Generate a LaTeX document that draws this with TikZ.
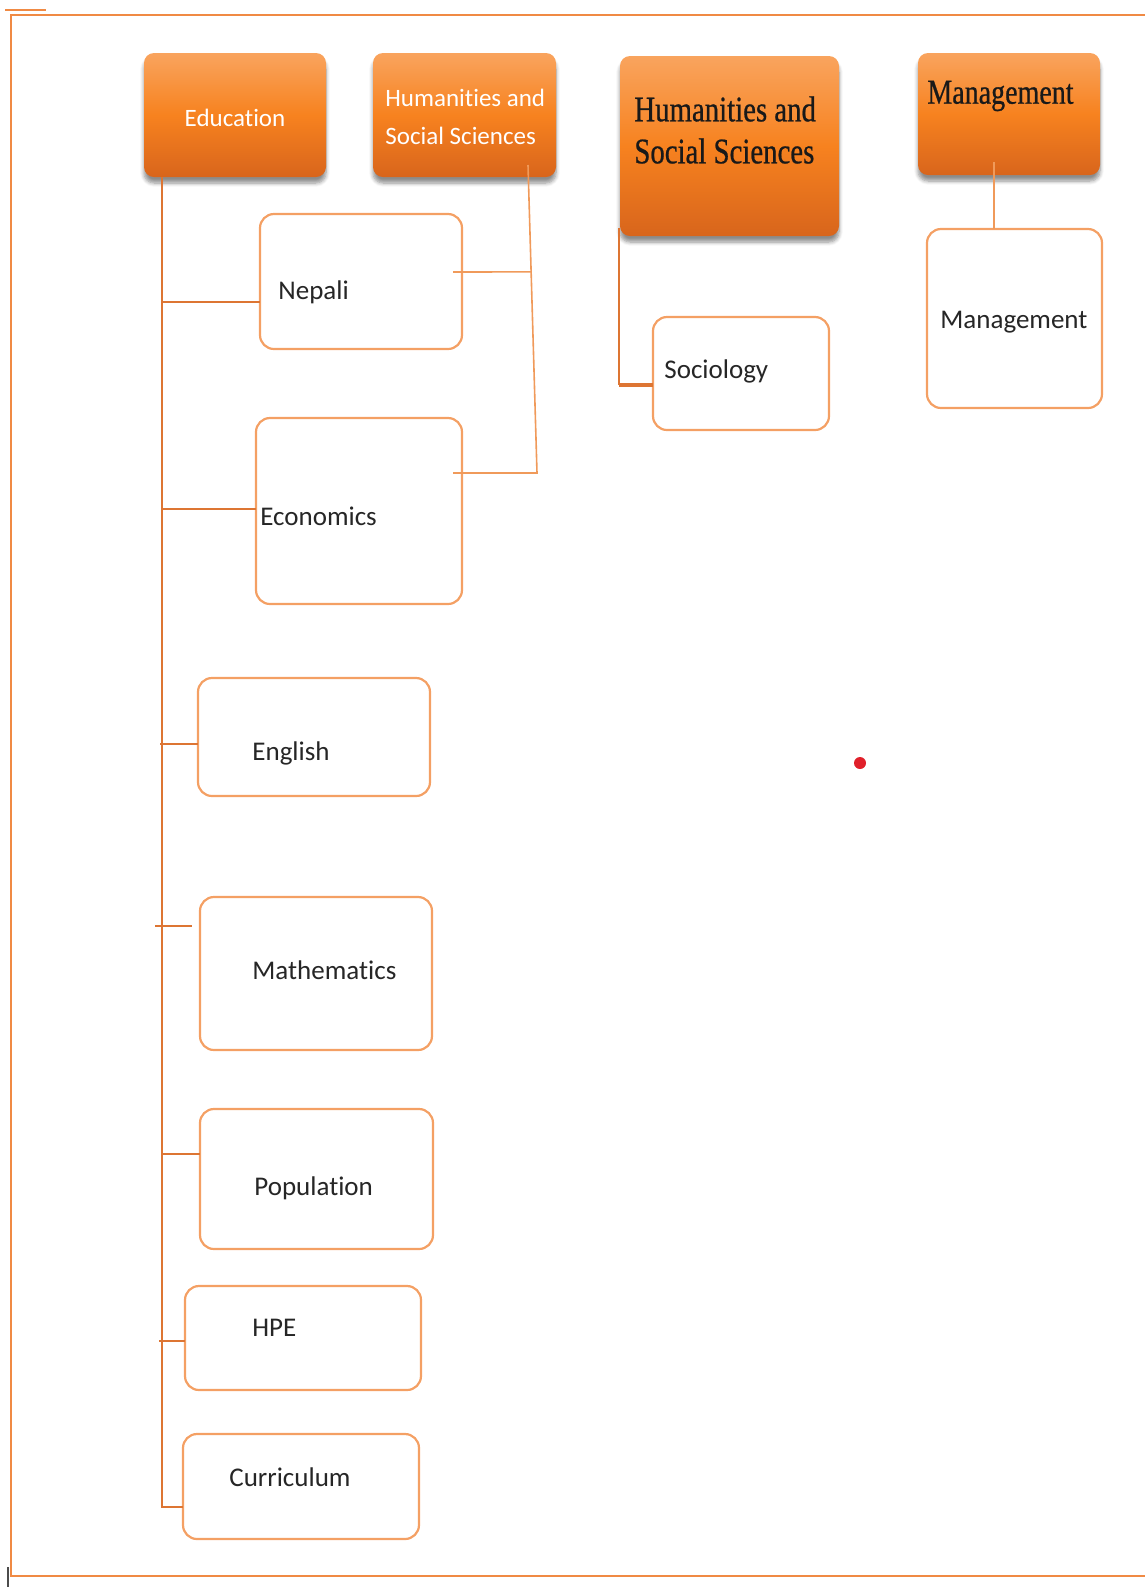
\documentclass[tikz,border=0pt]{standalone}
\usepackage{fontspec}
\setmainfont[Ligatures=NoCommon]{Carlito}
\newfontfamily\serifc[FakeStretch=0.8,FakeBold=0.6]{Liberation Serif}
\usetikzlibrary{shadows.blur,calc}
\definecolor{frameC}{HTML}{F08A44}
\definecolor{borderC}{HTML}{F4A064}
\definecolor{connC}{HTML}{DD7533}
\definecolor{connL}{HTML}{F09A5A}
\definecolor{hTop}{HTML}{F9A45E}
\definecolor{hMid}{HTML}{F7821F}
\definecolor{hBot}{HTML}{D8651C}
\definecolor{dotC}{HTML}{E0202A}
\newcommand{\rbox}[6]{\node[#6, minimum width={(#4-#2)*0.5pt}, minimum height={(#5-#3)*0.5pt}] (#1) at ({(#2+#4)/2},{(#3+#5)/2}) {};}
\tikzset{
  hdr/.style={rounded corners=5pt, top color=hTop, bottom color=hBot, middle color=hMid, draw=none,
    blur shadow={shadow xshift=0pt, shadow yshift=-3pt, shadow blur steps=6, shadow opacity=45},
    inner sep=0pt, outer sep=0pt},
  cbox/.style={rounded corners=7pt, draw=borderC, line width=1.1pt, fill=white, inner sep=0pt, outer sep=0pt},
  conn/.style={draw=connC, line width=0.9pt},
  connl/.style={draw=connL, line width=0.8pt},
  lbl/.style={font=\fontsize{13.5}{16}\selectfont, text=black!85, anchor=west, inner sep=0pt},
  hlbl/.style={font=\fontsize{12.5}{18.75}\selectfont, text=white, inner sep=0pt},
  slbl/.style={text=black!90, inner sep=0pt, anchor=west, align=left}
}
\begin{document}
\begin{tikzpicture}[x=0.5pt,y=-0.5pt]
\useasboundingbox (0,0) rectangle (1145,1587);
% frame
\draw[frameC, line width=1pt] (5,10) -- (46,10);
\draw[frameC, line width=1pt] (1145,15) -- (11,15) -- (11,1576) -- (1145,1576);
\draw[black!70, line width=0.6pt] (8,1567) -- (8,1587);
% header boxes
\rbox{edu}{144}{53}{326}{177}{hdr}
\rbox{hssS}{373}{53}{556}{177}{hdr}
\rbox{hssB}{620}{56}{839}{236}{hdr}
\rbox{mgH}{918}{53}{1100}{175}{hdr}
% child boxes
\rbox{nepali}{260}{214}{462}{349}{cbox}
\rbox{econ}{256}{418}{462}{604}{cbox}
\rbox{eng}{198}{678}{430}{796}{cbox}
\rbox{math}{200}{897}{432}{1050}{cbox}
\rbox{pop}{200}{1109}{433}{1249}{cbox}
\rbox{hpe}{185}{1286}{421}{1390}{cbox}
\rbox{curr}{183}{1434}{419}{1539}{cbox}
\rbox{soc}{653}{317}{829}{430}{cbox}
\rbox{mgC}{927}{229}{1102}{408}{cbox}
% header texts
\node[hlbl] (edu-t) at (235,118) {Education};
\node[hlbl, align=left, anchor=west] (hssS-t) at (385,117) {Humanities and\\Social Sciences};
\node[slbl, font=\serifc\fontsize{18}{21}\selectfont] (hssB-t) at (634,130) {Humanities and\\Social Sciences};
\node[slbl, font=\serifc\fontsize{17.5}{20}\selectfont] (mgH-t) at (927,96) {Management};
% child texts
\node[lbl] (nepali-t) at (278,292) {Nepali};
\node[lbl] (econ-t) at (260,516) {Economics};
\node[lbl] (eng-t) at (252,753) {English};
\node[lbl] (math-t) at (252,970) {Mathematics};
\node[lbl] (pop-t) at (254,1188) {Population};
\node[lbl] (hpe-t) at (252,1328) {HPE};
\node[lbl] (curr-t) at (229,1477) {Curriculum};
\node[lbl] (soc-t) at (664,371) {Sociology};
\node[lbl] (mgC-t) at (940,322) {Management};
% Education connectors
\coordinate (trunk) at ([xshift=9pt]edu.south west);
\coordinate (currE) at ([yshift=-10.25pt]curr.west);
\coordinate (nepE) at ([yshift=-10.25pt]nepali.west);
\coordinate (ecoE) at ([yshift=1pt]econ.west);
\coordinate (engE) at ([yshift=-3.5pt]eng.west);
\coordinate (mathE) at ([xshift=-4pt,yshift=23.75pt]math.west);
\coordinate (popE) at ([yshift=12.5pt]pop.west);
\coordinate (hpeE) at ([yshift=-1.5pt]hpe.west);
\draw[conn] (trunk) |- (currE);
\draw[conn] (trunk |- nepE) -- (nepE);
\draw[conn] (trunk |- ecoE) -- (ecoE);
\draw[conn] ($(trunk |- engE)+(-2,0)$) -- (engE);
\draw[conn] ($(trunk |- mathE)+(-7,0)$) -- (mathE);
\draw[conn] (trunk |- popE) -- (popE);
\draw[conn] ($(trunk |- hpeE)+(-3,0)$) -- (hpeE);
% Humanities (small) connectors
\coordinate (hssTop) at ([xshift=-14pt,yshift=6pt]hssS.south east);
\coordinate (ecoW) at ([xshift=-4.5pt,yshift=19pt]econ.east);
\coordinate (hssBot) at ($(ecoW)+(84,0)$);
\draw[connl] (hssTop) -- (hssBot) -- (ecoW);
\draw[connl] ([xshift=-4.5pt,yshift=4.75pt]nepali.east) -- ($(hssTop)!0.347!(hssBot)$);
% Humanities (big) connector
\coordinate (hbTop) at ([xshift=-0.5pt,yshift=4pt]hssB.south west);
\coordinate (socE) at ([yshift=-5.75pt]soc.west);
\draw[conn] (hbTop) -- (hbTop |- socE);
\draw[conn, line width=1.6pt] (hbTop |- socE) -- (socE);
% Management connector
\coordinate (mgTop) at ([xshift=-7.5pt,yshift=6.5pt]mgH.south);
\draw[connl] (mgTop) -- (mgTop |- mgC.north);
% red dot
\fill[dotC] (860,763) circle[radius=3pt];
\end{tikzpicture}
\end{document}
